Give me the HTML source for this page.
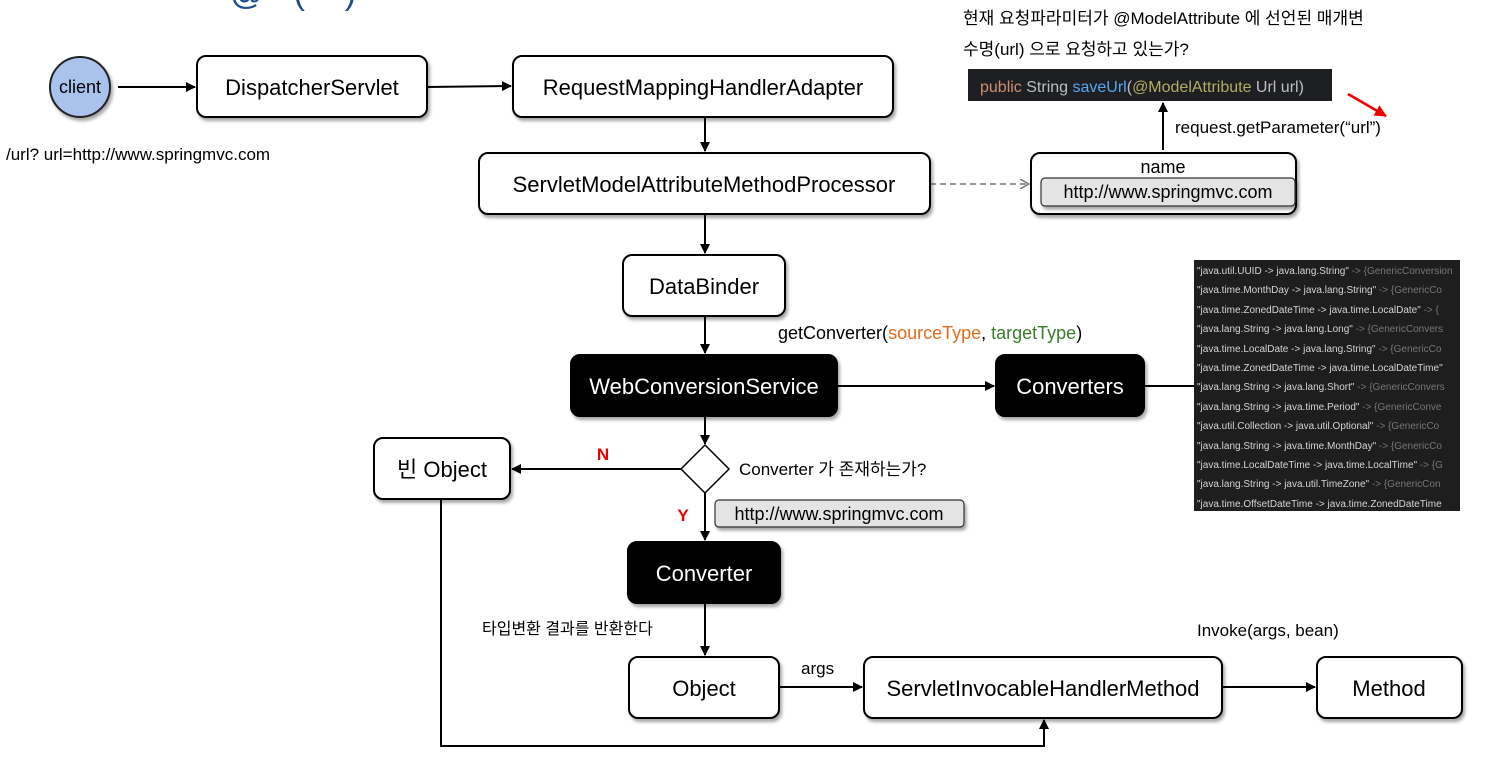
<!DOCTYPE html>
<html><head><meta charset="utf-8"><style>
body{margin:0;background:#fff;width:1486px;height:771px;overflow:hidden}
text{font-family:"Liberation Sans","Noto Sans CJK KR",sans-serif}
</style></head><body>
<svg width="1486" height="771" viewBox="0 0 1486 771" xmlns="http://www.w3.org/2000/svg">
<defs>
<marker id="a" markerWidth="10" markerHeight="10" refX="9" refY="5" orient="auto" markerUnits="userSpaceOnUse"><path d="M0,0 L10,5 L0,10 z" fill="#000"/></marker>
<marker id="r" markerWidth="12" markerHeight="12" refX="11" refY="6" orient="auto" markerUnits="userSpaceOnUse"><path d="M0,0 L12,6 L0,12 z" fill="#e00"/></marker>
<marker id="g" markerWidth="10" markerHeight="10" refX="9" refY="5" orient="auto" markerUnits="userSpaceOnUse"><path d="M0,0 L9,5 L0,10" fill="none" stroke="#777" stroke-width="1.5"/></marker>
<filter id="s" x="-10%" y="-10%" width="130%" height="140%"><feDropShadow dx="2" dy="3" stdDeviation="1.5" flood-color="#000" flood-opacity="0.35"/></filter>
</defs>
<text x="210" y="4" font-size="34" fill="#1f4e8c">~@~ (~~)</text>
<g stroke="#000" stroke-width="2" fill="none">
<line x1="118" y1="87" x2="195" y2="87" marker-end="url(#a)"/>
<line x1="427" y1="87" x2="511" y2="86" marker-end="url(#a)"/>
<line x1="705" y1="117" x2="705" y2="151" marker-end="url(#a)"/>
<line x1="705" y1="214" x2="705" y2="253" marker-end="url(#a)"/>
<line x1="705" y1="316" x2="705" y2="353" marker-end="url(#a)"/>
<line x1="837" y1="386" x2="994" y2="386" marker-end="url(#a)"/>
<line x1="1144" y1="386" x2="1194" y2="386"/>
<line x1="705" y1="416" x2="705" y2="444" marker-end="url(#a)"/>
<line x1="681" y1="469" x2="512" y2="469" marker-end="url(#a)"/>
<line x1="705" y1="493" x2="705" y2="540" marker-end="url(#a)"/>
<line x1="705" y1="603" x2="705" y2="655" marker-end="url(#a)"/>
<line x1="779" y1="687" x2="862" y2="687" marker-end="url(#a)"/>
<line x1="1222" y1="687" x2="1315" y2="687" marker-end="url(#a)"/>
<polyline points="441,499 441,746 1044,746 1044,720" marker-end="url(#a)"/>
<line x1="1163" y1="150" x2="1163" y2="103" marker-end="url(#a)"/>
</g>
<line x1="930" y1="184" x2="1029" y2="184" stroke="#777" stroke-width="1.5" stroke-dasharray="6,4" marker-end="url(#g)"/>
<line x1="1348" y1="94" x2="1386" y2="116" stroke="#e00" stroke-width="2.5" marker-end="url(#r)"/>
<circle cx="80" cy="87" r="30" fill="#a9c3ec" stroke="#222" stroke-width="2" filter="url(#s)"/>
<text x="80" y="93" font-size="18" text-anchor="middle">client</text>
<g stroke="#000" stroke-width="2" filter="url(#s)">
<rect x="197" y="56" width="230" height="61" rx="9" fill="#fff"/>
<rect x="513" y="56" width="380" height="61" rx="9" fill="#fff"/>
<rect x="479" y="153" width="451" height="61" rx="9" fill="#fff"/>
<rect x="623" y="255" width="162" height="61" rx="9" fill="#fff"/>
<rect x="571" y="355" width="266" height="61" rx="9" fill="#000"/>
<rect x="996" y="355" width="148" height="61" rx="9" fill="#000"/>
<rect x="1031" y="153" width="265" height="61" rx="9" fill="#fff"/>
<rect x="374" y="438" width="136" height="61" rx="9" fill="#fff"/>
<rect x="628" y="542" width="152" height="61" rx="9" fill="#000"/>
<rect x="629" y="657" width="150" height="61" rx="9" fill="#fff"/>
<rect x="864" y="657" width="358" height="61" rx="9" fill="#fff"/>
<rect x="1317" y="657" width="145" height="61" rx="9" fill="#fff"/>
</g>
<g stroke="#333" stroke-width="1.2" fill="#e4e4e4" filter="url(#s)">
<rect x="1041" y="178" width="254" height="28" rx="4"/>
<rect x="715" y="500" width="249" height="27" rx="4"/>
</g>
<polygon points="705,445 729,469 705,493 681,469" fill="#fff" stroke="#000" stroke-width="1.5"/>
<g font-size="22" text-anchor="middle">
<text x="312" y="95">DispatcherServlet</text>
<text x="703" y="95">RequestMappingHandlerAdapter</text>
<text x="704" y="192">ServletModelAttributeMethodProcessor</text>
<text x="704" y="294">DataBinder</text>
<text x="704" y="394" fill="#fff">WebConversionService</text>
<text x="1070" y="394" fill="#fff">Converters</text>
<text x="442" y="477">빈 Object</text>
<text x="704" y="581" fill="#fff">Converter</text>
<text x="704" y="696">Object</text>
<text x="1043" y="696">ServletInvocableHandlerMethod</text>
<text x="1389" y="696">Method</text>
</g>
<g font-size="18">
<text x="1163" y="173" text-anchor="middle">name</text>
<text x="1168" y="198" text-anchor="middle">http://www.springmvc.com</text>
<text x="839" y="520" text-anchor="middle">http://www.springmvc.com</text>
<text x="6" y="160" font-size="17">/url? url=http://www.springmvc.com</text>
<text x="778" y="339" font-size="18">getConverter(<tspan fill="#e06c1c">sourceType</tspan>, <tspan fill="#3a7d2a">targetType</tspan>)</text>
<text x="739" y="475" font-size="17">Converter 가 존재하는가?</text>
<text x="482" y="634" font-size="16">타입변환 결과를 반환한다</text>
<text x="801" y="674" font-size="17">args</text>
<text x="1197" y="636" font-size="17">Invoke(args, bean)</text>
<text x="963" y="24" font-size="17">현재 요청파라미터가 @ModelAttribute 에 선언된 매개변</text>
<text x="963" y="55" font-size="17">수명(url) 으로 요청하고 있는가?</text>
<text x="1175" y="133" font-size="17">request.getParameter(“url”)</text>
</g>
<text x="603" y="460" font-size="17" font-weight="bold" fill="#e00" text-anchor="middle">N</text>
<text x="683" y="521" font-size="17" font-weight="bold" fill="#e00" text-anchor="middle">Y</text>
<rect x="968" y="69" width="364" height="32" fill="#1e1f22"/>
<text x="980" y="92" font-size="16"><tspan fill="#cf8e6d">public </tspan><tspan fill="#bcbec4">String </tspan><tspan fill="#56a8f5">saveUrl</tspan><tspan fill="#bcbec4">(</tspan><tspan fill="#b3ae60">@ModelAttribute </tspan><tspan fill="#bcbec4">Url url)</tspan></text>
<rect x="1194" y="260" width="266" height="251" fill="#1e1e1e"/>
<svg x="1194" y="260" width="266" height="251">
<g font-size="10" fill="#d4d4d4">
<text x="3" y="14">"java.util.UUID -&gt; java.lang.String" <tspan fill="#777">-&gt; {GenericConversion</tspan></text>
<text x="3" y="33">"java.time.MonthDay -&gt; java.lang.String" <tspan fill="#777">-&gt; {GenericCo</tspan></text>
<text x="3" y="53">"java.time.ZonedDateTime -&gt; java.time.LocalDate" <tspan fill="#777">-&gt; {</tspan></text>
<text x="3" y="72">"java.lang.String -&gt; java.lang.Long" <tspan fill="#777">-&gt; {GenericConvers</tspan></text>
<text x="3" y="92">"java.time.LocalDate -&gt; java.lang.String" <tspan fill="#777">-&gt; {GenericCo</tspan></text>
<text x="3" y="111">"java.time.ZonedDateTime -&gt; java.time.LocalDateTime"</text>
<text x="3" y="130">"java.lang.String -&gt; java.lang.Short" <tspan fill="#777">-&gt; {GenericConvers</tspan></text>
<text x="3" y="150">"java.lang.String -&gt; java.time.Period" <tspan fill="#777">-&gt; {GenericConve</tspan></text>
<text x="3" y="169">"java.util.Collection -&gt; java.util.Optional" <tspan fill="#777">-&gt; {GenericCo</tspan></text>
<text x="3" y="189">"java.lang.String -&gt; java.time.MonthDay" <tspan fill="#777">-&gt; {GenericCo</tspan></text>
<text x="3" y="208">"java.time.LocalDateTime -&gt; java.time.LocalTime" <tspan fill="#777">-&gt; {G</tspan></text>
<text x="3" y="227">"java.lang.String -&gt; java.util.TimeZone" <tspan fill="#777">-&gt; {GenericCon</tspan></text>
<text x="3" y="247">"java.time.OffsetDateTime -&gt; java.time.ZonedDateTime</text>
</g>
</svg>
</svg>
</body></html>
